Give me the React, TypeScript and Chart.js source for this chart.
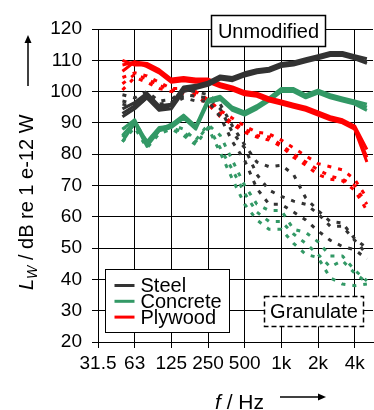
import React, { useEffect, useRef } from 'react';
import { Chart, registerables } from 'chart.js';

Chart.register(...registerables);

const FONT = '"Liberation Sans", Arial, Helvetica, sans-serif';

// third-octave band centre frequencies along the x axis (31.5 Hz sits on the left edge)
const thirdOctaveBands = ['31.5', '40', '50', '63', '80', '100', '125', '160', '200', '250', '315', '400', '500', '630', '800', '1000', '1250', '1600', '2000', '2500', '3150', '4000', '5000'];
// bands that carry measured values
const measuredBands = ['50', '63', '80', '100', '125', '160', '200', '250', '315', '400', '500', '630', '800', '1000', '1250', '1600', '2000', '2500', '3150', '4000', '5000'];
// labelled octave ticks
const octaveBands = ['31.5', '63', '125', '250', '500', '1000', '2000', '4000'];
const octaveLabels = ['31.5', '63', '125', '250', '500', '1k', '2k', '4k'];

const seriesNames = ['Steel', 'Concrete', 'Plywood'];
const conditionNames = ['Unmodified', 'Granulate'];

// sound power level Lw in dB, unmodified (solid)
const steelUnmod1 = [93, 95.5, 99, 94.5, 95.5, 101, 101.5, 102.5, 104.5, 104, 105.5, 106.5, 107, 108.5, 109, 110, 111, 112, 112, 111, 109.5];
const steelUnmod2 = [94.5, 96.5, 99.5, 95.5, 96, 101.5, 102, 103, 105, 104.5, 106, 107, 107.5, 109, 109.5, 110.5, 111.5, 112.5, 112.5, 111.5, 110.5];
const steelUnmod3 = [92, 94.5, 98, 94, 94.5, 100, 101, 102, 104, 103.5, 105, 106, 106.5, 108, 108.5, 109.5, 110.5, 111.5, 111.5, 110.5, 109];

const concreteUnmod1 = [86, 90.5, 84, 88.5, 89, 92, 88.5, 97, 98, 94.5, 93, 95, 97.5, 100.5, 100.5, 98.5, 100, 98.5, 97.5, 96.5, 95];
const concreteUnmod2 = [88, 91, 83, 88, 89.5, 92.5, 89, 97.5, 98.5, 95, 93.5, 95.5, 98, 101, 101, 99, 100.5, 99, 98, 97, 96];
const concreteUnmod3 = [84, 90, 82.5, 87.5, 88.5, 91.5, 88, 96.5, 97.5, 94, 92.5, 94.5, 97, 100, 100, 98, 99.5, 98, 97, 96, 94];

const plywoodUnmod1 = [110, 108.5, 108.5, 106.5, 103.5, 104, 103.5, 103.5, 102, 101, 99.5, 99, 97.5, 96.5, 95.5, 94.5, 93, 91.5, 90.5, 88.5, 79];
const plywoodUnmod2 = [108.5, 109.5, 109, 107, 104, 104.5, 104, 104, 102.5, 101.5, 100, 99.5, 98, 97, 96, 95, 93.5, 92, 91, 89, 81.5];
const plywoodUnmod3 = [106.5, 109.5, 108, 106, 103, 103.5, 103, 103, 101.5, 100.5, 99, 98.5, 97, 96, 95, 94, 92.5, 91, 90, 88, 77.5];

// with granulate (dotted)
const steelGran1 = [99, 98, 100, 97, 97.5, 100.5, 100, 99, 96, 89, 83, 77.5, 76, 76.5, 73.5, 66, 62, 58.5, 58, 53, 50];
const steelGran2 = [97, 96, 99, 96, 96.5, 99, 98.5, 98, 94.5, 87, 82, 73.5, 68.5, 66.5, 65, 64, 61, 57, 57, 52.5, 48];
const steelGran3 = [96, 95, 98, 95, 96, 98, 97, 97, 92, 84, 78, 69, 64, 64, 61.5, 59, 55.5, 52.5, 50.5, 49.5, 46.5];

const concreteGran1 = [88, 90.5, 84, 88, 89.5, 88, 84.5, 89.5, 86, 78, 70, 64, 62, 62, 56, 55, 52, 47.5, 47.5, 43, 39.5];
const concreteGran2 = [85.5, 89.5, 83, 87.5, 88.5, 87, 84, 89, 82, 75, 67.5, 61.5, 58.5, 58.5, 54.5, 51.5, 48, 44, 46, 42, 39];
const concreteGran3 = [84, 88.5, 82, 86.5, 88, 86, 83, 88.5, 80.5, 72, 64, 59, 56, 56, 51.5, 48, 47, 40.5, 38.5, 38, 38.5];

const plywoodGran1 = [104.5, 106, 105, 103, 101, 101, 100, 97.5, 94, 91.5, 89, 87, 86.5, 84.5, 82, 79.5, 77, 76, 75, 72, 66];
const plywoodGran2 = [102.5, 105.5, 104, 102, 100.5, 100.5, 99, 97, 93, 90, 88, 86, 85.5, 83, 80, 77.5, 75, 73, 72, 70, 64];
const plywoodGran3 = [100.5, 104.5, 103, 101, 100, 99.5, 98.5, 96, 92, 89.5, 87, 85.5, 84.5, 82.5, 79, 76.5, 73.5, 72, 71.5, 68.5, 62];

const Y_MIN = 20;
const Y_MAX = 120;
const Y_STEP = 10;

const COLORS = ['#333333', '#339966', '#ff0000'];

const toPoints = (vals: number[]) =>
  vals.map((v, i) => ({ x: thirdOctaveBands.indexOf(measuredBands[i]), y: v }));

const solid = (label: string, vals: number[], color: string) => ({
  label,
  data: toPoints(vals),
  borderColor: color,
  backgroundColor: color,
  borderWidth: 3,
  pointRadius: 0,
  fill: false,
});

const dotted = (label: string, vals: number[], color: string) => ({
  label,
  data: toPoints(vals),
  borderColor: color,
  backgroundColor: color,
  borderWidth: 3,
  borderDash: [4, 7],
  pointRadius: 0,
  fill: false,
});

function drawArrow(ctx: CanvasRenderingContext2D, x1: number, y1: number, x2: number, y2: number) {
  const ang = Math.atan2(y2 - y1, x2 - x1);
  const head = 8;
  const half = 3.5;
  ctx.beginPath();
  ctx.moveTo(x1, y1);
  ctx.lineTo(x2 - Math.cos(ang) * head * 0.8, y2 - Math.sin(ang) * head * 0.8);
  ctx.lineWidth = 1.5;
  ctx.strokeStyle = '#000';
  ctx.stroke();
  ctx.beginPath();
  ctx.moveTo(x2, y2);
  ctx.lineTo(x2 - Math.cos(ang) * head - Math.sin(ang) * half, y2 - Math.sin(ang) * head + Math.cos(ang) * half);
  ctx.lineTo(x2 - Math.cos(ang) * head + Math.sin(ang) * half, y2 - Math.sin(ang) * head - Math.cos(ang) * half);
  ctx.closePath();
  ctx.fillStyle = '#000';
  ctx.fill();
}

const overlayPlugin = {
  id: 'overlay',
  afterDraw(chart: any) {
    const ctx: CanvasRenderingContext2D = chart.ctx;
    const ca = chart.chartArea;
    ctx.save();

    // "Unmodified" box
    {
      const x = ca.left + 113.5, y = ca.top - 13.5, w = 114, h = 31;
      ctx.fillStyle = '#fff';
      ctx.fillRect(x, y, w, h);
      ctx.lineWidth = 1.5;
      ctx.strokeStyle = '#000';
      ctx.setLineDash([]);
      ctx.strokeRect(x, y, w, h);
      ctx.font = `20px ${FONT}`;
      ctx.fillStyle = '#000';
      ctx.textAlign = 'center';
      ctx.textBaseline = 'middle';
      ctx.fillText(conditionNames[0], x + w / 2, y + h / 2 + 1);
    }

    // "Granulate" box (dashed)
    {
      const x = ca.left + 166.5, y = ca.bottom - 45.5, w = 99, h = 30;
      ctx.fillStyle = '#fff';
      ctx.fillRect(x, y, w, h);
      ctx.lineWidth = 1.5;
      ctx.strokeStyle = '#000';
      ctx.setLineDash([5, 3]);
      ctx.strokeRect(x, y, w, h);
      ctx.setLineDash([]);
      ctx.font = `20px ${FONT}`;
      ctx.fillStyle = '#000';
      ctx.textAlign = 'center';
      ctx.textBaseline = 'middle';
      ctx.fillText(conditionNames[1], x + w / 2, y + h / 2 + 1);
    }

    // legend
    {
      const x = ca.left + 7.5, y = ca.bottom - 72.5, w = 124, h = 63;
      ctx.fillStyle = '#fff';
      ctx.fillRect(x, y, w, h);
      ctx.lineWidth = 1;
      ctx.strokeStyle = '#000';
      ctx.strokeRect(x, y, w, h);
      ctx.font = `20px ${FONT}`;
      ctx.textAlign = 'left';
      ctx.textBaseline = 'middle';
      seriesNames.forEach((name, i) => {
        const ry = y + 16 + i * 15.8;
        ctx.beginPath();
        ctx.moveTo(x + 9, ry);
        ctx.lineTo(x + 29, ry);
        ctx.lineWidth = 3;
        ctx.strokeStyle = COLORS[i];
        ctx.stroke();
        ctx.fillStyle = '#000';
        ctx.fillText(name, x + 35, ry + 1);
      });
    }

    // y axis title: L_W / dB re 1 e-12 W  with arrow
    {
      ctx.save();
      ctx.translate(33, 290);
      ctx.rotate(-Math.PI / 2);
      ctx.textAlign = 'left';
      ctx.textBaseline = 'alphabetic';
      ctx.fillStyle = '#000';
      let cx = 0;
      ctx.font = `italic 20px ${FONT}`;
      ctx.fillText('L', cx, 0);
      cx += ctx.measureText('L').width;
      ctx.font = `italic 14px ${FONT}`;
      ctx.fillText('W', cx, 4);
      cx += ctx.measureText('W').width;
      ctx.font = `20px ${FONT}`;
      ctx.fillText(' / dB re 1 e-12 W', cx, 0);
      ctx.restore();
      drawArrow(ctx, 28, 86, 28, 35);
    }

    // x axis title: f / Hz with arrow
    {
      ctx.textAlign = 'left';
      ctx.textBaseline = 'alphabetic';
      ctx.fillStyle = '#000';
      let cx = 215;
      ctx.font = `italic 21px ${FONT}`;
      ctx.fillText('f', cx, 409);
      cx += ctx.measureText('f').width;
      ctx.font = `21px ${FONT}`;
      ctx.fillText(' / Hz', cx, 409);
      drawArrow(ctx, 280, 397, 326, 397);
    }

    ctx.restore();
  },
};

export default function App() {
  const ref = useRef<HTMLCanvasElement | null>(null);

  useEffect(() => {
    if (!ref.current) return;
    const datasets = [
      solid('Steel', steelUnmod1, COLORS[0]),
      solid('Steel', steelUnmod2, COLORS[0]),
      solid('Steel', steelUnmod3, COLORS[0]),
      solid('Plywood', plywoodUnmod1, COLORS[2]),
      solid('Plywood', plywoodUnmod2, COLORS[2]),
      solid('Plywood', plywoodUnmod3, COLORS[2]),
      solid('Concrete', concreteUnmod1, COLORS[1]),
      solid('Concrete', concreteUnmod2, COLORS[1]),
      solid('Concrete', concreteUnmod3, COLORS[1]),
      dotted('Steel granulate', steelGran1, COLORS[0]),
      dotted('Steel granulate', steelGran2, COLORS[0]),
      dotted('Steel granulate', steelGran3, COLORS[0]),
      dotted('Plywood granulate', plywoodGran1, COLORS[2]),
      dotted('Plywood granulate', plywoodGran2, COLORS[2]),
      dotted('Plywood granulate', plywoodGran3, COLORS[2]),
      dotted('Concrete granulate', concreteGran1, COLORS[1]),
      dotted('Concrete granulate', concreteGran2, COLORS[1]),
      dotted('Concrete granulate', concreteGran3, COLORS[1]),
    ];

    const chart = new Chart(ref.current, {
      type: 'line',
      data: { datasets } as any,
      options: {
        responsive: false,
        animation: false,
        layout: { padding: { top: 29, right: 1, left: 0, bottom: 0 } },
        plugins: {
          legend: { display: false },
          tooltip: { enabled: false },
        },
        elements: {
          point: { radius: 0 },
          line: { tension: 0, borderJoinStyle: 'round' },
        },
        scales: {
          x: {
            type: 'linear',
            min: 0,
            max: 22.5,
            afterFit: (s: any) => {
              s.height = 68;
            },
            afterBuildTicks: (s: any) => {
              s.ticks = octaveBands.map((b) => ({ value: thirdOctaveBands.indexOf(b) }));
            },
            ticks: {
              autoSkip: false,
              maxRotation: 0,
              padding: 4,
              color: '#000',
              font: { size: 19, family: FONT },
              callback: (_v: any, i: number) => octaveLabels[i],
            },
            grid: { color: '#000', lineWidth: 1, tickLength: 6, drawTicks: true },
            border: { color: '#000', width: 1 },
          },
          y: {
            type: 'linear',
            min: Y_MIN,
            max: Y_MAX,
            afterFit: (s: any) => {
              s.width = 98;
            },
            ticks: {
              stepSize: Y_STEP,
              padding: 10,
              color: '#000',
              font: { size: 19, family: FONT },
            },
            grid: { color: '#000', lineWidth: 1, tickLength: 6, drawTicks: true },
            border: { color: '#000', width: 1 },
          },
        },
      } as any,
      plugins: [overlayPlugin],
    });
    return () => chart.destroy();
  }, []);

  return (
    <div style={{ position: 'absolute', left: 0, top: 0, width: 374, height: 410, background: '#fff' }}>
      <canvas ref={ref} width={374} height={410} style={{ display: 'block', width: 374, height: 410 }} />
    </div>
  );
}
